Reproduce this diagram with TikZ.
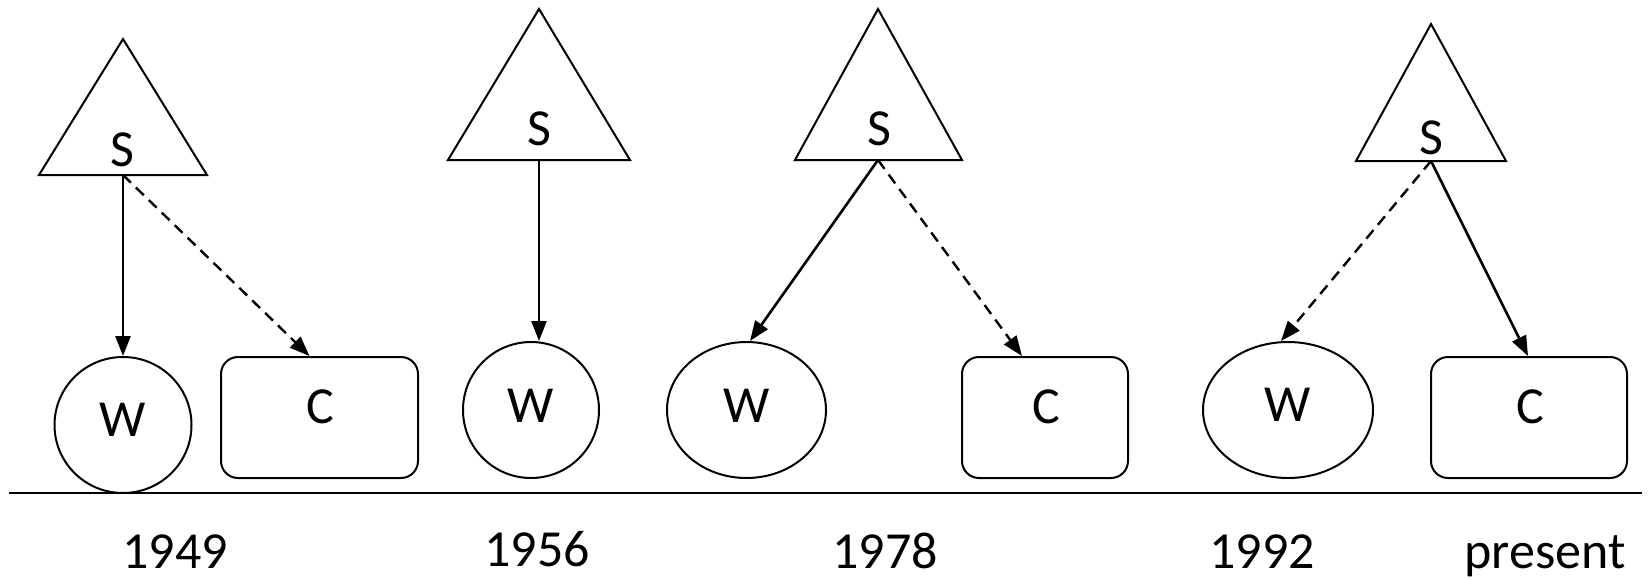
\documentclass[tikz,border=0pt]{standalone}
\usepackage{fontspec}
\setmainfont{Carlito}
\usetikzlibrary{arrows.meta,calc,shapes.geometric}
\begin{document}
\begin{tikzpicture}[x=1pt,y=-1pt,
  shapeline/.style={draw=black,line width=2pt},
  wnode/.style={shapeline,ellipse,inner sep=0pt,minimum height=136pt},
  cnode/.style={shapeline,rectangle,rounded corners=17pt,inner sep=0pt,minimum height=121pt},
  txt/.style={font=\fontsize{52}{60}\selectfont,inner sep=0pt},
  solidarrow/.style={line width=2.6pt,-{Triangle[length=20pt,width=15pt]}},
  dasharrow/.style={line width=2.4pt,dash pattern=on 11pt off 7pt,-{Triangle[length=20pt,width=15pt]}}
]
\useasboundingbox (0,0) rectangle (1649,579);

% timeline
\coordinate (tl) at (9,493);
\coordinate (tr) at (1642,493);
\draw[line width=2.2pt] (tl) -- (tr);

% triangles
\draw[shapeline,line join=miter] (123,39) -- (207,175) -- (39,175) -- cycle;
\draw[shapeline,line join=miter] (539,9) -- (630,160) -- (448,160) -- cycle;
\draw[shapeline,line join=miter] (878,9) -- (962,160) -- (795,160) -- cycle;
\draw[shapeline,line join=miter] (1431,24) -- (1506,161) -- (1356,161) -- cycle;
\coordinate (s1) at (123,175);
\coordinate (s2) at (539,160);
\coordinate (s3) at (878,160);
\coordinate (s4) at (1431,161);
\node[txt] (s1t) at (122,150) {S};
\node[txt] (s2t) at (539,129) {S};
\node[txt] (s3t) at (879,129) {S};
\node[txt] (s4t) at (1431,138) {S};

% W nodes
\node[wnode,minimum width=137pt] (w1) at (123,425) {};
\node[wnode,minimum width=136pt] (w2) at (531,410) {};
\node[wnode,minimum width=159pt] (w3) at (746.5,410) {};
\node[wnode,minimum width=170pt] (w4) at (1288,410) {};
\node[txt] (w1t) at (123,420) {W};
\node[txt] (w2t) at (531,406) {W};
\node[txt] (w3t) at (746.5,406) {W};
\node[txt] (w4t) at (1288,405) {W};

% C nodes
\node[cnode,minimum width=197pt] (c1) at (319.5,417.5) {};
\node[cnode,minimum width=166pt] (c3) at (1045,417.5) {};
\node[cnode,minimum width=196pt] (c4) at (1529,417.5) {};
\node[txt] (c1t) at (320,407) {C};
\node[txt] (c3t) at (1046,407) {C};
\node[txt] (c4t) at (1530,407) {C};

% connectors
\draw[solidarrow] (s1) -- (w1.north);
\draw[dasharrow] (s1) -- ($(c1.north)+(-10,0)$);
\draw[solidarrow] (s2) -- (w2.north -| s2);
\draw[solidarrow] (s3) -- ($(w3.north)+(3.5,0)$);
\draw[dasharrow] (s3) -- ($(c3.north)+(-23,0)$);
\draw[dasharrow] (s4) -- ($(w4.north)+(-7,0)$);
\draw[solidarrow] (s4) -- ($(c4.north)+(-1,0)$);

% years
\node[txt,anchor=base] (y1) at (175,568) {1949};
\node[txt,anchor=base] (y2) at (537,566) {1956};
\node[txt,anchor=base] (y3) at (885,568) {1978};
\node[txt,anchor=base] (y4) at (1262,568) {1992};
\node[txt,anchor=base] (y5) at (1545,568) {present};
\end{tikzpicture}
\end{document}
